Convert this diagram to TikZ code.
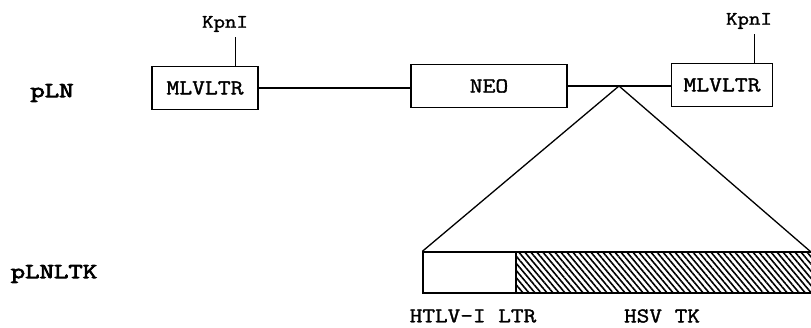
\documentclass[tikz,border=0pt]{standalone}
\usepackage{fontspec}
\newfontfamily\scanmono[FakeBold=1.6, FakeStretch=1.17]{Latin Modern Mono}
\newfontfamily\plasmidfont[FakeBold=3.5, FakeStretch=1.3]{Latin Modern Mono}
\usetikzlibrary{patterns.meta}

\begin{document}
\begin{tikzpicture}[
  x=1pt, y=-1pt,
  font=\scanmono,
  line width=1.3pt,
  gene/.style={draw, minimum height=43pt, inner sep=0pt, font=\scanmono\fontsize{21.3}{21.3}\selectfont},
  site/.style={inner sep=0pt, font=\scanmono\fontsize{19}{19}\selectfont},
  plasmid/.style={inner sep=0pt, font=\plasmidfont\fontsize{21.5}{21.5}\selectfont},
  part/.style={inner sep=0pt, font=\scanmono\fontsize{21}{21}\selectfont},
  hatch/.style={pattern={Lines[angle=-50, distance=4.6pt, line width=1.6pt]}}
]
  \useasboundingbox (0,0) rectangle (811,328);

  % pLN vector
  \node[plasmid] (pln) at (52,93) {pLN};
  \node[gene, minimum width=106pt] (ltrL) at (205,88) {MLVLTR};
  \node[gene, minimum width=156pt] (neo) at (489,86) {NEO};
  \node[gene, minimum width=101pt] (ltrR) at (722,85) {MLVLTR};
  \draw (ltrL.east) -- (ltrL.east -| neo.west);
  \draw (neo.east) -- (neo.east -| ltrR.west);

  % KpnI sites
  \node[site] (kpnL) at (225,24) {KpnI};
  \node[site] (kpnR) at (749,21) {KpnI};
  \coordinate (siteL) at (235,67);
  \coordinate (siteR) at (754,63);
  \draw[line width=1pt] (siteL) -- ([yshift=-4pt]siteL |- kpnL.south);
  \draw[line width=1pt] (siteR) -- ([yshift=-4pt]siteR |- kpnR.south);

  % insert site
  \coordinate (apex) at (619,86);

  % pLNLTK insert
  \node[plasmid] (plnltk) at (54,274) {pLNLTK};
  \begin{scope}
    \clip (0,0) rectangle (811,328);
    \node[draw, fill=white, minimum width=93pt, minimum height=41pt, inner sep=0pt] (htlv) at (469.5,272.5) {};
    \node[draw, hatch, minimum width=299pt, minimum height=41pt, inner sep=0pt] (tk) at (665.5,272.5) {};
    \draw (htlv.north west) -- (apex) -- (811,252);
  \end{scope}

  \node[part] (htlvlab) at (473,316) {HTLV-I LTR};
  \node[part] (tklab) at (662,316) {HSV TK};
\end{tikzpicture}
\end{document}
